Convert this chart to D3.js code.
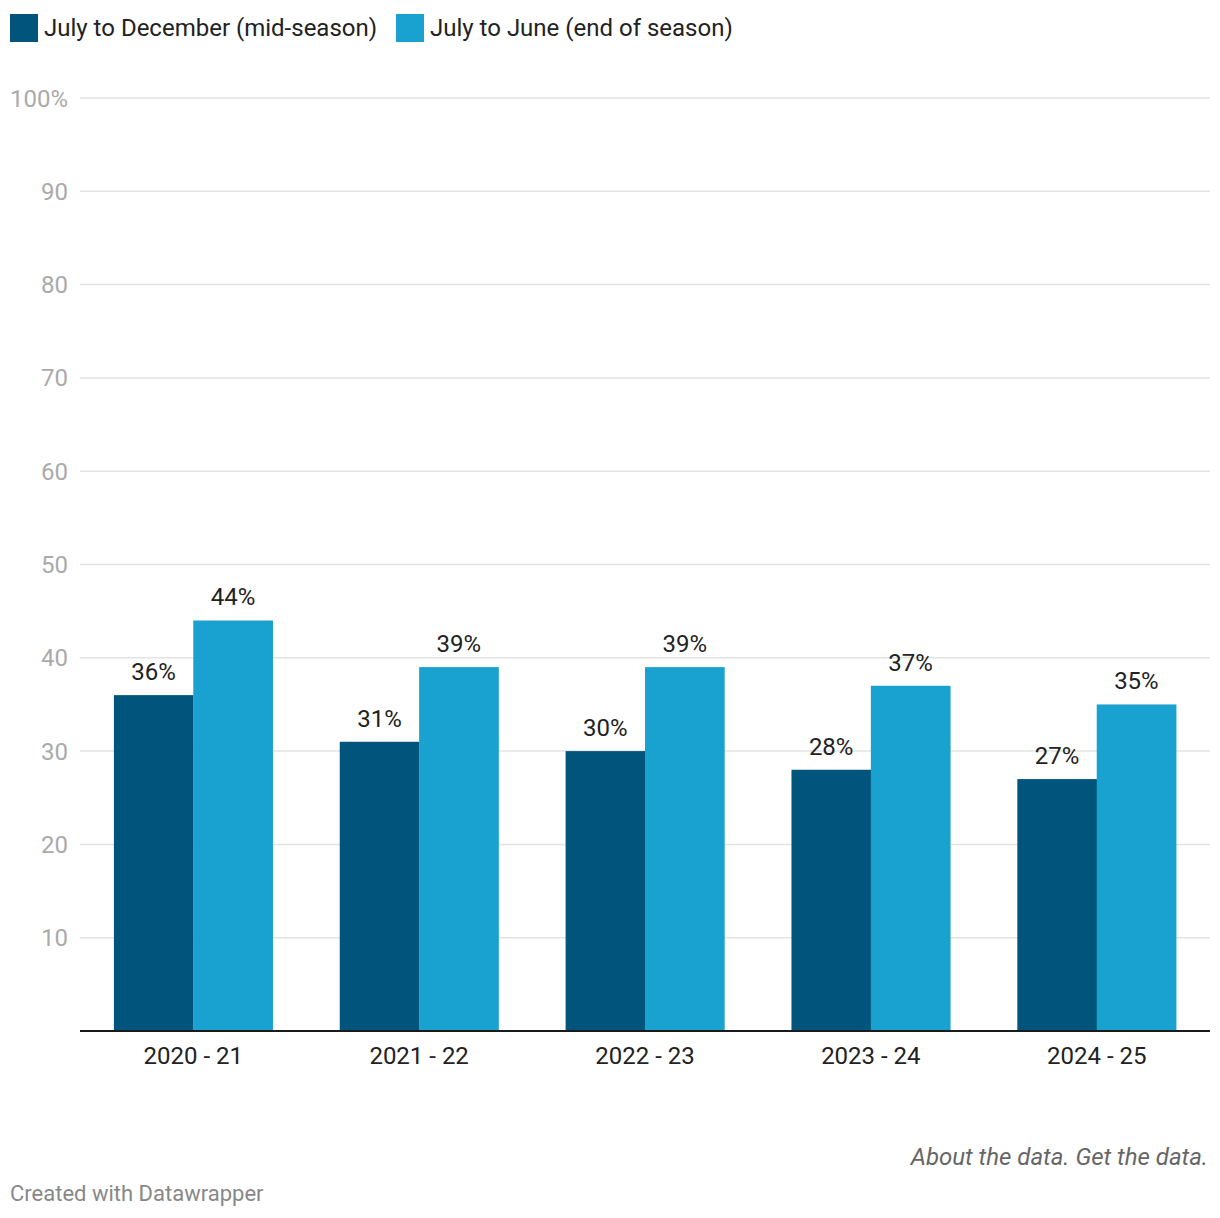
<!DOCTYPE html>
<html><head><meta charset="utf-8">
<script src="https://cdn.jsdelivr.net/npm/d3@7"></script>
<style>
body{margin:0;background:#fff;font-family:Roboto,sans-serif;}
</style></head>
<body><svg id="c" width="1220" height="1218"></svg>
<script>
const seasons = ["2020 - 21","2021 - 22","2022 - 23","2023 - 24","2024 - 25"];
const seriesNames = ["July to December (mid-season)","July to June (end of season)"];
const midSeason = [36,31,30,28,27];
const endSeason = [44,39,39,37,35];
const colors = ["#01547c","#19a1cf"];
const yTicks = [10,20,30,40,50,60,70,80,90,100];

const svg = d3.select("#c");
const x = d3.scaleBand().domain(seasons).range([80,1210]).paddingInner(0.297).paddingOuter(0.15);
const y = d3.scaleLinear().domain([0,100]).range([1031,98]);
const xs = d3.scaleBand().domain([0,1]).range([0,x.bandwidth()]);

// gridlines
const gy = svg.append("g");
gy.selectAll("line").data(yTicks).join("line")
  .attr("x1",80).attr("x2",1210).attr("y1",d=>y(d)).attr("y2",d=>y(d))
  .attr("stroke","#e3e3e3").attr("stroke-width",1.5);
gy.selectAll("text").data(yTicks).join("text")
  .attr("x",68).attr("y",d=>y(d)+8.5).attr("text-anchor","end")
  .attr("font-size",24).attr("fill","#aaaaaa")
  .text(d=>d===100?"100%":d);

const data = seasons.map((s,i)=>({s,vals:[midSeason[i],endSeason[i]]}));
const g = svg.append("g");
const groups = g.selectAll("g").data(data).join("g").attr("transform",d=>`translate(${x(d.s)},0)`);
groups.selectAll("rect").data(d=>d.vals.map((v,k)=>({v,k}))).join("rect")
  .attr("x",d=>xs(d.k)).attr("width",xs.bandwidth()+0.3)
  .attr("y",d=>y(d.v)).attr("height",d=>y(0)-y(d.v))
  .attr("fill",d=>colors[d.k]);
groups.selectAll("text").data(d=>d.vals.map((v,k)=>({v,k}))).join("text")
  .attr("x",d=>xs(d.k)+xs.bandwidth()/2).attr("y",d=>y(d.v)-15)
  .attr("text-anchor","middle").attr("font-size",24).attr("fill","#222")
  .text(d=>d.v+"%");

// baseline
svg.append("line").attr("x1",80).attr("x2",1210).attr("y1",y(0)).attr("y2",y(0))
  .attr("stroke","#1a1a1a").attr("stroke-width",2);

// x labels
svg.append("g").selectAll("text").data(seasons).join("text")
  .attr("x",d=>x(d)+x.bandwidth()/2).attr("y",1064).attr("text-anchor","middle")
  .attr("font-size",24).attr("fill","#222").text(d=>d);

// legend
const legX = [10,396];
const lg = svg.append("g");
seriesNames.forEach((n,i)=>{
  lg.append("rect").attr("x",legX[i]).attr("y",14).attr("width",28).attr("height",28).attr("fill",colors[i]);
  lg.append("text").attr("x",legX[i]+34).attr("y",36).attr("font-size",24).attr("fill","#222").text(n);
});

// footer
svg.append("text").attr("x",1208).attr("y",1165).attr("text-anchor","end")
  .attr("font-size",24).attr("font-style","italic").attr("fill","#666").text("About the data. Get the data.");
svg.append("text").attr("x",10).attr("y",1201).attr("font-size",22).attr("fill","#888").text("Created with Datawrapper");
</script></body></html>
